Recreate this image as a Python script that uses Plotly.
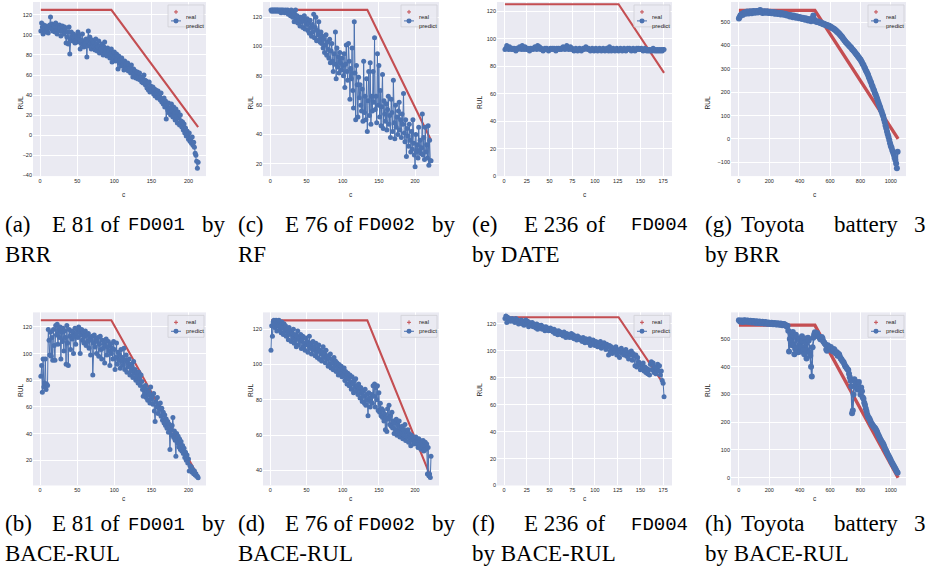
import plotly.graph_objects as go

# ---------------- data ----------------
cyc_fd001 = list(range(1, 214))
cyc_fd002 = list(range(1, 223))
cyc_fd004 = list(range(1, 177))
cyc_bat = list(range(0, 1050, 5))

# real RUL (knee points)
real_fd001_c = [1, 96, 213]
real_fd001_v = [125, 125, 8]
real_fd002_c = [1, 134, 222]
real_fd002_v = [125, 125, 36]
real_fd004_c = [1, 126, 176]
real_fd004_v = [125, 125, 75]
real_bat_c = [0, 500, 1048]
real_bat_v = [550, 550, 0]

pred_a_brr = [
    104, 112, 108, 101, 110, 106, 103, 109, 104, 107,
    102, 108, 110, 118, 106, 111, 104, 107, 109, 103,
    112, 106, 101, 108, 104, 110, 107, 99, 105, 109,
    104, 101, 108, 106, 92, 98, 103, 91, 108, 81,
    96, 103, 99, 94, 101, 97, 92, 95, 99, 93,
    103, 97, 100, 86, 92, 95, 101, 90, 88, 93,
    91, 96, 78, 94, 104, 89, 98, 92, 86, 95,
    90, 93, 88, 85, 96, 91, 84, 88, 94, 82,
    89, 86, 91, 84, 80, 88, 93, 83, 86, 79,
    87, 82, 84, 77, 81, 86, 73, 80, 76, 83,
    78, 74, 81, 76, 66, 79, 72, 75, 69, 77,
    73, 70, 65, 74, 68, 71, 66, 72, 64, 69,
    67, 62, 70, 63, 58, 66, 61, 64, 57, 60,
    63, 56, 59, 62, 55, 58, 53, 57, 52, 60,
    55, 50, 54, 47, 52, 45, 53, 43, 49, 46,
    44, 48, 41, 46, 39, 45, 42, 37, 44, 40,
    38, 35, 42, 33, 36, 31, 37, 28, 34, 16,
    30, 25, 32, 22, 27, 20, 31, 24, 18, 28,
    22, 15, 26, 19, 12, 23, 17, 10, 20, 14,
    8, 13, 5, 11, 2, 7, -1, 4, 0, -4,
    2, -6, -3, -8, -2, -10, -7, -12, -18, -20,
    -26, -33, -27]

pred_b_bace = [
    83, 91, 71, 96, 75, 78, 96, 73, 77, 76,
    118, 110, 99, 116, 98, 112, 95, 118, 106, 95,
    121, 114, 122, 107, 118, 112, 120, 96, 116, 109,
    119, 102, 117, 112, 92, 121, 108, 91, 118, 113,
    103, 117, 111, 116, 100, 113, 119, 107, 115, 118,
    112, 120, 117, 100, 114, 118, 110, 116, 108, 113,
    117, 106, 114, 109, 115, 104, 112, 99, 110, 113,
    84, 108, 114, 105, 111, 100, 109, 112, 98, 107,
    113, 103, 96, 110, 104, 108, 93, 106, 111, 99,
    105, 109, 102, 91, 107, 100, 104, 96, 109, 103,
    88, 97, 108, 92, 101, 95, 99, 89, 103, 94,
    97, 91, 104, 88, 95, 99, 86, 93, 90, 96,
    84, 92, 87, 90, 82, 94, 85, 88, 80, 86,
    83, 78, 86, 81, 76, 84, 79, 73, 68, 75,
    70, 76, 67, 73, 65, 71, 69, 63, 75, 66,
    68, 62, 70, 57, 49, 64, 60, 67, 55, 62,
    58, 63, 53, 59, 50, 56, 48, 54, 46, 51,
    44, 49, 41, 47, 28, 43, 39, 46, 52, 37,
    42, 35, 23, 40, 33, 38, 30, 36, 28, 34,
    27, 31, 25, 29, 22, 26, 20, 24, 18, 21,
    12, 16, 13, 15, 11, 13, 10, 12, 9, 10,
    8, 8, 7]

pred_c_rf = [
    125, 124, 125, 125, 124, 125, 125, 124, 125, 125,
    124, 125, 124, 125, 123, 125, 124, 125, 124, 123,
    125, 124, 123, 125, 122, 124, 123, 121, 125, 122,
    120, 124, 117, 122, 125, 119, 121, 116, 120, 118,
    114, 120, 117, 119, 113, 118, 121, 112, 117, 115,
    119, 111, 116, 109, 118, 113, 107, 115, 110, 122,
    106, 113, 120, 104, 111, 108, 117, 105, 103, 110,
    102, 107, 99, 105, 96, 101, 108, 94, 103, 98,
    92, 105, 89, 97, 102, 90, 83, 95, 88, 110,
    78, 99, 86, 93, 82, 96, 89, 84, 92, 87,
    80, 95, 72, 88, 101, 83, 77, 102, 90, 64,
    85, 78, 99, 70, 58, 117, 82, 50, 87, 74,
    52, 79, 65, 74, 60, 56, 71, 49, 90, 55,
    66, 50, 78, 42, 63, 83, 53, 89, 47, 66,
    56, 83, 62, 106, 57, 66, 48, 95, 60, 87,
    52, 70, 46, 59, 81, 44, 63, 54, 49, 61,
    43, 57, 66, 47, 53, 38, 64, 55, 42, 77,
    48, 37, 60, 45, 52, 40, 56, 62, 43, 50,
    38, 54, 47, 68, 41, 35, 50, 25, 44, 39,
    32, 47, 36, 28, 42, 30, 50, 34, 26, 18,
    40, 28, 33, 24, 45, 29, 36, 27, 31, 54,
    26, 38, 23, 45, 28, 33, 24, 46, 19, 36,
    22, 22]

pred_d_bace = [
    108, 122, 116, 124, 125, 121, 123, 125, 119, 124,
    122, 125, 120, 123, 118, 124, 121, 117, 123, 119,
    122, 116, 120, 118, 114, 121, 117, 119, 113, 118,
    115, 120, 112, 117, 114, 110, 116, 119, 111, 115,
    113, 117, 109, 114, 116, 110, 112, 108, 115, 111,
    113, 107, 111, 116, 109, 112, 106, 110, 113, 108,
    110, 105, 112, 107, 104, 109, 111, 103, 108, 106,
    102, 107, 110, 104, 106, 101, 108, 103, 105, 99,
    104, 100, 106, 98, 103, 101, 97, 104, 99, 102,
    96, 101, 98, 94, 100, 97, 95, 99, 93, 97,
    94, 98, 91, 96, 93, 89, 95, 92, 88, 94,
    90, 86, 93, 89, 84, 91, 87, 92, 85, 88,
    83, 89, 86, 81, 87, 84, 79, 85, 82, 78,
    86, 77, 83, 80, 71, 84, 81, 76, 79, 83,
    78, 88, 82, 89, 76, 87, 80, 88, 74, 84,
    73, 78, 71, 75, 70, 74, 68, 72, 63, 70,
    62, 75, 69, 77, 66, 71, 65, 73, 64, 68,
    61, 67, 63, 69, 60, 66, 62, 68, 59, 64,
    61, 65, 58, 63, 60, 66, 57, 62, 59, 63,
    56, 61, 58, 54, 60, 57, 59, 55, 58, 56,
    59, 55, 57, 53, 58, 54, 57, 52, 56, 53,
    57, 51, 54, 56, 52, 55, 38, 53, 37, 38,
    36, 48]

pred_e_date = [
    92, 93, 95, 93, 92, 94, 93, 92, 93, 92,
    93, 92, 91, 93, 92, 93, 94, 93, 92, 95,
    93, 92, 94, 93, 92, 93, 92, 91, 93, 92,
    93, 92, 93, 94, 93, 92, 95, 93, 94, 92,
    93, 92, 91, 92, 93, 92, 93, 92, 91, 92,
    93, 92, 93, 92, 93, 92, 91, 93, 92, 93,
    92, 93, 92, 93, 94, 93, 92, 93, 95, 93,
    92, 93, 94, 92, 93, 92, 91, 92, 93, 92,
    91, 92, 93, 92, 91, 92, 93, 92, 93, 94,
    93, 92, 93, 92, 91, 92, 93, 92, 91, 92,
    93, 92, 91, 92, 93, 92, 91, 92, 93, 92,
    91, 92, 93, 92, 91, 94, 92, 91, 92, 93,
    92, 91, 92, 93, 92, 91, 92, 93, 92, 91,
    92, 93, 92, 91, 92, 93, 92, 93, 92, 91,
    92, 93, 92, 91, 92, 93, 92, 93, 92, 92,
    93, 92, 91, 92, 93, 92, 91, 92, 91, 92,
    91, 92, 91, 93, 92, 91, 92, 91, 92, 91,
    92, 91, 92, 91, 92, 92]

pred_f_bace = [
    124, 126, 121, 125, 123, 124, 122, 123, 124, 122,
    123, 121, 124, 122, 123, 120, 122, 121, 123, 120,
    122, 119, 121, 123, 120, 122, 118, 121, 119, 120,
    121, 118, 120, 119, 117, 120, 116, 119, 118, 117,
    119, 116, 118, 117, 115, 118, 116, 117, 115, 116,
    117, 115, 116, 114, 116, 113, 115, 114, 112, 115,
    113, 114, 112, 113, 111, 114, 112, 110, 113, 111,
    112, 110, 111, 113, 110, 112, 109, 111, 110, 108,
    111, 109, 110, 108, 109, 107, 110, 108, 106, 109,
    107, 108, 106, 109, 104, 107, 105, 108, 106, 104,
    107, 105, 103, 106, 104, 107, 102, 105, 103, 106,
    104, 101, 105, 103, 97, 104, 100, 103, 98, 102,
    101, 99, 103, 97, 101, 100, 95, 99, 102, 98,
    100, 97, 99, 101, 96, 98, 94, 99, 97, 100,
    93, 98, 96, 89, 97, 88, 95, 92, 90, 86,
    89, 87, 91, 85, 88, 84, 87, 83, 86, 82,
    90, 92, 86, 91, 84, 88, 83, 87, 90, 85,
    89, 82, 85, 78, 76, 66]

pred_g_brr = [
    515, 522, 528, 533, 535, 530, 538, 541, 540, 536,
    542, 545, 540, 537, 544, 546, 541, 538, 543, 547,
    545, 540, 542, 547, 546, 541, 543, 548, 552, 543,
    544, 539, 541, 546, 545, 540, 542, 546, 544, 539,
    540, 544, 543, 538, 539, 543, 542, 536, 538, 541,
    540, 535, 537, 540, 539, 533, 535, 538, 537, 531,
    534, 536, 531, 528, 533, 530, 528, 524, 530, 527,
    526, 521, 528, 524, 524, 519, 525, 521, 521, 516,
    522, 518, 518, 513, 519, 515, 515, 510, 516, 512,
    512, 507, 513, 509, 509, 504, 510, 518, 528, 512,
    506, 503, 504, 500, 502, 499, 500, 496, 498, 494,
    495, 491, 493, 489, 490, 486, 488, 483, 485, 481,
    482, 478, 478, 474, 474, 470, 469, 465, 464, 459,
    458, 453, 451, 446, 444, 438, 436, 430, 427, 421,
    418, 413, 411, 406, 404, 399, 397, 392, 390, 384,
    382, 377, 374, 369, 366, 360, 358, 352, 349, 343,
    340, 333, 328, 321, 316, 308, 302, 294, 289, 281,
    275, 265, 258, 248, 241, 231, 224, 214, 207, 197,
    190, 180, 172, 162, 153, 143, 135, 124, 116, 106,
    97, 84, 72, 58, 46, 32, 20, 8, -5, -18,
    -30, -38, -50, -58, -68, -80, -90, -105, -125, -55]

pred_h_bace = [
    568, 565, 562, 567, 566, 561, 563, 568, 567, 562,
    564, 567, 566, 561, 562, 566, 565, 560, 561, 565,
    563, 559, 560, 564, 562, 558, 559, 563, 561, 557,
    558, 562, 560, 556, 557, 561, 559, 555, 556, 560,
    558, 554, 555, 559, 557, 553, 554, 558, 556, 552,
    553, 557, 555, 551, 552, 556, 554, 550, 551, 554,
    553, 549, 550, 545, 548, 530, 455, 500, 520, 490,
    478, 525, 512, 445, 465, 515, 505, 470, 452, 500,
    498, 455, 470, 510, 492, 460, 445, 502, 488, 430,
    460, 505, 495, 452, 440, 400, 365, 470, 505, 515,
    524, 520, 518, 522, 512, 508, 506, 500, 498, 507,
    503, 492, 488, 484, 480, 462, 458, 478, 474, 469,
    467, 471, 462, 458, 455, 464, 460, 450, 448, 452,
    440, 447, 444, 436, 430, 427, 422, 419, 415, 408,
    402, 399, 395, 391, 388, 375, 362, 350, 330, 232,
    242, 300, 355, 348, 340, 325, 318, 340, 345, 318,
    300, 325, 312, 290, 285, 270, 262, 250, 240, 228,
    220, 216, 212, 205, 198, 194, 190, 186, 182, 179,
    176, 170, 165, 158, 152, 146, 140, 135, 130, 126,
    122, 115, 108, 102, 96, 90, 85, 79, 74, 68,
    63, 57, 52, 47, 42, 37, 32, 27, 22, 18]

xticks_fd = [0, 50, 100, 150, 200]
xticks_fd004 = [0, 25, 50, 75, 100, 125, 150, 175]
xticks_bat = [0, 200, 400, 600, 800, 1000]

# ---------------- styling / layout ----------------
W, H = 932, 585
BG = "#EAEAF2"
RED = "#C44E52"
BLUE = "#4C72B0"
TXT = "#262626"


def fx(p):
    return p / W


def fy(p):
    return 1 - p / H


panels = [
    dict(box=(33, 2, 206, 177), c=cyc_fd001, p=pred_a_brr, rc=real_fd001_c, rv=real_fd001_v,
         xr=[-9.6, 223.6], yr=[-40.9, 132.9], xt=xticks_fd, dy=20, bat=False),
    dict(box=(263, 2, 439, 177), c=cyc_fd002, p=pred_c_rf, rc=real_fd002_c, rv=real_fd002_v,
         xr=[-10, 233], yr=[11.6, 130.4], xt=xticks_fd, dy=20, bat=False),
    dict(box=(497, 2, 672, 177), c=cyc_fd004, p=pred_e_date, rc=real_fd004_c, rv=real_fd004_v,
         xr=[-7.75, 184.75], yr=[0, 126.6], xt=xticks_fd004, dy=20, bat=False),
    dict(box=(731, 2, 906, 177), c=cyc_bat, p=pred_g_brr, rc=real_bat_c, rv=real_bat_v,
         xr=[-52, 1100], yr=[-159, 586], xt=xticks_bat, dy=100, bat=True),
    dict(box=(33, 314, 206, 488), c=cyc_fd001, p=pred_b_bace, rc=real_fd001_c, rv=real_fd001_v,
         xr=[-9.6, 223.6], yr=[1.1, 130.9], xt=xticks_fd, dy=20, bat=False),
    dict(box=(263, 314, 439, 488), c=cyc_fd002, p=pred_d_bace, rc=real_fd002_c, rv=real_fd002_v,
         xr=[-10, 233], yr=[31.5, 129.5], xt=xticks_fd, dy=20, bat=False),
    dict(box=(497, 314, 672, 488), c=cyc_fd004, p=pred_f_bace, rc=real_fd004_c, rv=real_fd004_v,
         xr=[-7.75, 184.75], yr=[0, 128.6], xt=xticks_fd004, dy=20, bat=False),
    dict(box=(731, 314, 906, 488), c=cyc_bat, p=pred_h_bace, rc=real_bat_c, rv=real_bat_v,
         xr=[-52, 1100], yr=[-28, 596], xt=xticks_bat, dy=100, bat=True),
]

fig = go.Figure()
shapes = []
annotations = []
layout = dict(
    width=W, height=H, margin=dict(l=0, r=0, t=0, b=0),
    paper_bgcolor="white", plot_bgcolor=BG, showlegend=False,
    font=dict(family="Liberation Sans, Arial, sans-serif", color=TXT, size=6),
)

for i, pn in enumerate(panels, start=1):
    L, T, R, B = pn["box"]
    xa = "x" if i == 1 else f"x{i}"
    ya = "y" if i == 1 else f"y{i}"
    fig.add_trace(go.Scatter(
        x=pn["rc"], y=pn["rv"], mode="lines", xaxis=xa, yaxis=ya,
        line=dict(color=RED, width=3.4 if pn["bat"] else 2.1), name="real", hoverinfo="skip"))
    fig.add_trace(go.Scatter(
        x=pn["c"], y=pn["p"], mode="lines+markers", xaxis=xa, yaxis=ya,
        line=dict(color=BLUE, width=1.6 if pn["bat"] else 1),
        marker=dict(color=BLUE, size=6 if pn["bat"] else 5),
        name="predict"))
    axx = dict(domain=[fx(L), fx(R)], range=pn["xr"], tickvals=pn["xt"],
               showgrid=True, gridcolor="white", gridwidth=1, zeroline=False,
               showline=False, ticks="", tickfont=dict(size=5.5, color=TXT),
               anchor=ya)
    axy = dict(domain=[fy(B), fy(T)], range=pn["yr"], dtick=pn["dy"], tick0=0,
               showgrid=True, gridcolor="white", gridwidth=1, zeroline=False,
               showline=False, ticks="", tickfont=dict(size=5.5, color=TXT),
               anchor=xa)
    layout["xaxis" if i == 1 else f"xaxis{i}"] = axx
    layout["yaxis" if i == 1 else f"yaxis{i}"] = axy

    # axis titles
    top_row = T < 100
    annotations.append(dict(x=fx((L + R) / 2), y=fy(196 if top_row else 507), xref="paper", yref="paper",
                            text="c", showarrow=False, font=dict(size=6.5, color=TXT)))
    annotations.append(dict(x=fx(L - 18), y=fy(95 if top_row else 401), xref="paper", yref="paper",
                            text="RUL", textangle=-90, showarrow=False, font=dict(size=6.5, color=TXT)))

    # legend box (drawn)
    shapes.append(dict(type="rect", xref="paper", yref="paper", layer="above",
                       x0=fx(R - 38), x1=fx(R - 2), y0=fy(T + 25), y1=fy(T + 3),
                       fillcolor="rgba(234,234,242,0.85)", line=dict(color="#CFCFD6", width=0.8)))
    cx, cy = R - 30, T + 10
    shapes.append(dict(type="line", xref="paper", yref="paper", layer="above",
                       x0=fx(cx - 2), x1=fx(cx + 2), y0=fy(cy), y1=fy(cy), line=dict(color=RED, width=1)))
    shapes.append(dict(type="line", xref="paper", yref="paper", layer="above",
                       x0=fx(cx), x1=fx(cx), y0=fy(cy - 2), y1=fy(cy + 2), line=dict(color=RED, width=1)))
    ly = T + 19
    shapes.append(dict(type="line", xref="paper", yref="paper", layer="above",
                       x0=fx(R - 35), x1=fx(R - 25), y0=fy(ly), y1=fy(ly), line=dict(color=BLUE, width=1)))
    shapes.append(dict(type="circle", xref="paper", yref="paper", layer="above",
                       x0=fx(R - 32.5), x1=fx(R - 27.5), y0=fy(ly + 2.5), y1=fy(ly - 2.5),
                       fillcolor=BLUE, line=dict(color=BLUE, width=0)))
    annotations.append(dict(x=fx(R - 22), y=fy(cy), xref="paper", yref="paper", xanchor="left",
                            text="real", showarrow=False, font=dict(size=6, color=TXT)))
    annotations.append(dict(x=fx(R - 22), y=fy(ly), xref="paper", yref="paper", xanchor="left",
                            text="predict", showarrow=False, font=dict(size=6, color=TXT)))

# ---------------- captions ----------------
MONO = "font-family:Liberation Mono;font-size:19px"


def tt(s):
    return f'<span style="{MONO}">{s}</span>'


cap_font = dict(family="Liberation Serif, Times New Roman, serif", size=23, color="black")
# each caption: list of (text, x, anchor) pieces on line 1, line-2 text, x start, y1, y2
captions = [
    ([("(a)", 3, "left"), ("E 81 of", 50, "left"), (tt("FD001"), 187, "right"), ("by", 228, "right")],
     "BRR", 3, 226, 256),
    ([("(c)", 236, "left"), ("E 76 of", 283, "left"), (tt("FD002"), 417, "right"), ("by", 458, "right")],
     "RF", 236, 226, 256),
    ([("(e)", 470, "left"), ("E 236", 522, "left"), ("of", 596, "center"), (tt("FD004"), 690, "right")],
     "by DATE", 470, 226, 256),
    ([("(g)", 703, "left"), ("Toyota", 739, "left"), ("battery", 866, "center"), ("3", 928, "right")],
     "by BRR", 703, 226, 256),
    ([("(b)", 3, "left"), ("E 81 of", 50, "left"), (tt("FD001"), 187, "right"), ("by", 228, "right")],
     "BACE-RUL", 3, 541, 571),
    ([("(d)", 236, "left"), ("E 76 of", 283, "left"), (tt("FD002"), 417, "right"), ("by", 458, "right")],
     "BACE-RUL", 236, 541, 571),
    ([("(f)", 470, "left"), ("E 236", 522, "left"), ("of", 596, "center"), (tt("FD004"), 690, "right")],
     "by BACE-RUL", 470, 541, 571),
    ([("(h)", 703, "left"), ("Toyota", 739, "left"), ("battery", 866, "center"), ("3", 928, "right")],
     "by BACE-RUL", 703, 541, 571),
]
for pieces, line2, x0, y1, y2 in captions:
    for txt, xp, anc in pieces:
        annotations.append(dict(x=fx(xp), y=fy(y1), xref="paper", yref="paper", xanchor=anc,
                                text=txt, showarrow=False, font=cap_font))
    annotations.append(dict(x=fx(x0), y=fy(y2), xref="paper", yref="paper", xanchor="left",
                            text=line2, showarrow=False, font=cap_font))

layout["shapes"] = shapes
layout["annotations"] = annotations
fig.update_layout(**layout)

fig.write_html("out.html", config={"displayModeBar": False},
               post_script="document.body.style.margin='0';document.body.style.overflow='hidden';")
